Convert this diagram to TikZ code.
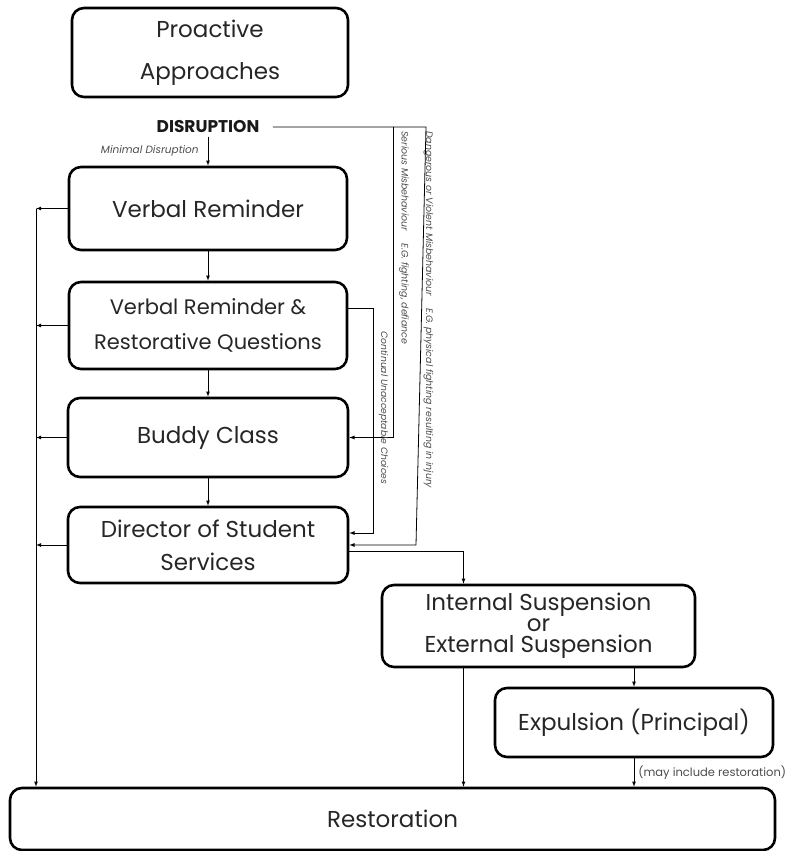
\documentclass[tikz,border=0pt]{standalone}
\usepackage{fontspec}
\setmainfont{Poppins}
\usetikzlibrary{positioning,arrows}
\tikzstyle{stagestyle}=[shape=rectangle,draw,rounded corners=12pt,line width=2.6pt,align=center,text=black!85,font=\fontsize{23}{35}\selectfont]
\tikzstyle{linkstyle}=[->,>=latex,line width=0.8pt]
\tikzstyle{notestyle}=[font=\fontsize{10.5}{12}\selectfont\itshape,text=black!70,inner sep=1pt]
\tikzstyle{sidestyle}=[font=\fontsize{9.4}{10}\selectfont\itshape,text=black!70,inner sep=1pt,rotate=-90,anchor=south west]
\newcommand{\flowstage}[6]{ \draw (#3,#4) node [style=stagestyle,minimum width=#5pt,minimum height=#6pt] (#1) {#2}; }
\newcommand{\flowdown}[2]{ \draw [style=linkstyle] (#1.south) -- (#2.north); }
\newcommand{\flowrail}[1]{ \draw [style=linkstyle] (#1.west) -- (#1.west -| rail); }
\begin{document}
\begin{tikzpicture}[x=1pt,y=-1pt]
\useasboundingbox (0,0) rectangle (793,851);
\coordinate (rail) at (36,0);
\coordinate (continual) at (373,0);
\coordinate (serious) at (393,0);
\coordinate (danger) at (416,0);

% stages
\flowstage{proactive}{Proactive\\[7pt]Approaches}{210}{52.5}{276}{89}
\draw (208,127) node [font=\fontsize{17}{18}\selectfont\bfseries,text=black!90] (disruption) {DISRUPTION};
\flowstage{verbal}{Verbal Reminder}{208}{208.5}{278}{83}
\flowstage{restq}{{\fontsize{21}{35}\selectfont Verbal Reminder \&}\\{\fontsize{21}{35}\selectfont Restorative Questions}}{208}{325.5}{278}{87}
\flowstage{buddy}{Buddy Class}{208}{437.5}{280}{79}
\flowstage{director}{Director of Student\\[-2pt]Services}{208}{545}{280}{76}
\flowstage{suspension}{Internal Suspension\\[-14pt]or\\[-14pt]External Suspension}{538.5}{626}{313}{82}
\flowstage{expulsion}{Expulsion (Principal)}{634}{722.5}{278}{69}
\flowstage{restoration}{Restoration}{392.5}{819}{765}{62}

% main column
\draw [style=linkstyle] (disruption.south) -- node [left=8pt,style=notestyle] (minimal) {Minimal Disruption} (verbal.north);
\flowdown{verbal}{restq}
\flowdown{restq}{buddy}
\flowdown{buddy}{director}

% back to restoration
\flowrail{verbal}
\flowrail{restq}
\flowrail{buddy}
\flowrail{director}
\draw [style=linkstyle] (verbal.west -| rail) -- (restoration.north -| rail);

% escalation
\draw [style=linkstyle] ([xshift=10pt]disruption.east) -- ([xshift=10pt]disruption.east -| danger) -- (director.east -| danger) -- (director.east);
\draw [style=linkstyle] (disruption.east -| serious) -- (buddy.east -| serious) -- (buddy.east);
\draw [style=linkstyle] ([yshift=17pt]restq.east) -- ([yshift=17pt]restq.east -| continual) -- ([yshift=12pt]director.east -| continual) -- ([yshift=12pt]director.east);
\node [style=sidestyle] (dangerlabel) at ([xshift=6.5pt,yshift=-3pt]disruption.east -| danger) {Dangerous or Violent Misbehaviour \quad E.G. physical fighting resulting in injury};
\node [style=sidestyle] (seriouslabel) at ([xshift=5pt,yshift=-3pt]disruption.east -| serious) {Serious Misbehaviour \quad E.G. fighting, defiance};
\node [style=sidestyle,font=\fontsize{9.2}{10}\selectfont\itshape] (continuallabel) at ([xshift=4.5pt,yshift=-5pt]restq.east -| continual) {Continual Unacceptable Choices};

% suspension and expulsion
\draw [style=linkstyle] ([yshift=-6pt]director.east) -| ([xshift=-75pt]suspension.north);
\draw [style=linkstyle] ([xshift=-75pt]suspension.south) -- ([xshift=-75pt]suspension.south |- restoration.north);
\draw [style=linkstyle] (suspension.south -| expulsion.north) -- (expulsion.north);
\draw [style=linkstyle] (expulsion.south) -- node [right=3pt,font=\fontsize{11.5}{12}\selectfont,text=black!70,inner sep=1pt] (mayinclude) {(may include restoration)} (expulsion.south |- restoration.north);
\end{tikzpicture}
\end{document}
